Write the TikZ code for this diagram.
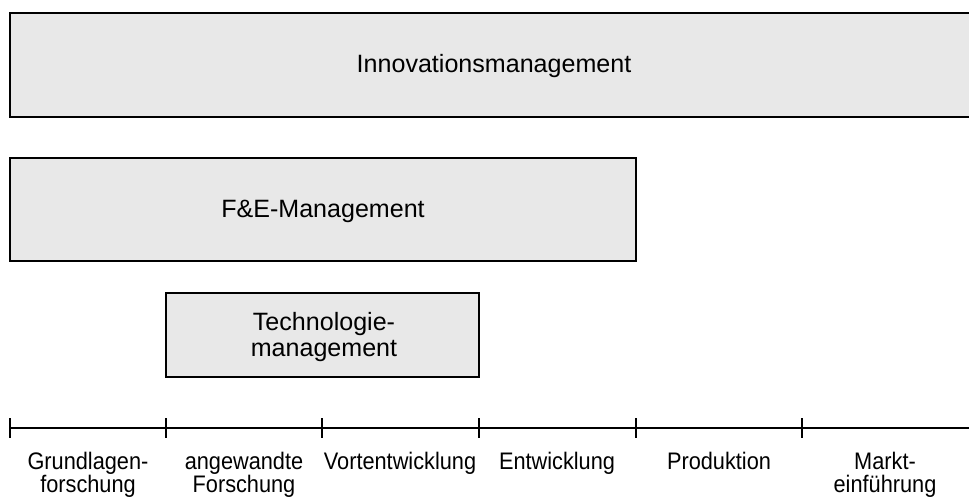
\documentclass[tikz,border=0pt]{standalone}
\usepackage{fontspec}
\setmainfont{Liberation Sans}

% phase names: centred lines, set a little taller than wide
\newcommand{\phasename}[1]{\scalebox{1}[1.1]{\vbox{\lineskiplimit=-20pt\baselineskip=15.6pt
    \halign{\hfil##\hfil\cr#1\crcr}}}}

\tikzset{
    layer/.style={draw=black, line width=1.3pt, fill=black!9},
    boxtext/.style={font=\fontsize{18.8}{19.5}\selectfont, align=center, inner sep=0pt},
    phase/.style={font=\fontsize{16.3}{14}\selectfont, inner sep=0pt, anchor=north},
    axis/.style={line width=0.8pt}
}

\begin{document}
\begin{tikzpicture}[x=0.75pt, y=-0.75pt]
        \useasboundingbox (0,0) rectangle (969,497);

        % management layers
        \draw[layer] (10,13) rectangle (980,117);
        \draw[layer] (10,158) rectangle (636,261);
        \draw[layer] (166,293) rectangle (479,377);

        \node[boxtext] (innov) at (494,66) {Innovationsmanagement};
        \node[boxtext] (fue) at (323,211) {F\&E-Management};
        \node[boxtext] (techno) at (324,337) {Technologie-\\management};

        % time axis with phases
        \draw[axis] (10,428) -- (969,428);
        \foreach \x in {10,166,322,479,636,802}
            \draw[axis] (\x,418) -- (\x,438);

        \node[phase] (grundl) at (88,452) {\phasename{Grundlagen-\cr forschung}};
        \node[phase] (angew) at (244,452) {\phasename{angewandte\cr Forschung}};
        \node[phase] (vorent) at (400,452) {\phasename{Vortentwicklung}};
        \node[phase] (entw) at (557,452) {\phasename{Entwicklung}};
        \node[phase] (prod) at (719,452) {\phasename{Produktion}};
        \node[phase] (markt) at (885,452) {\phasename{Markt-\cr einführung}};
    \end{tikzpicture}
\end{document}
